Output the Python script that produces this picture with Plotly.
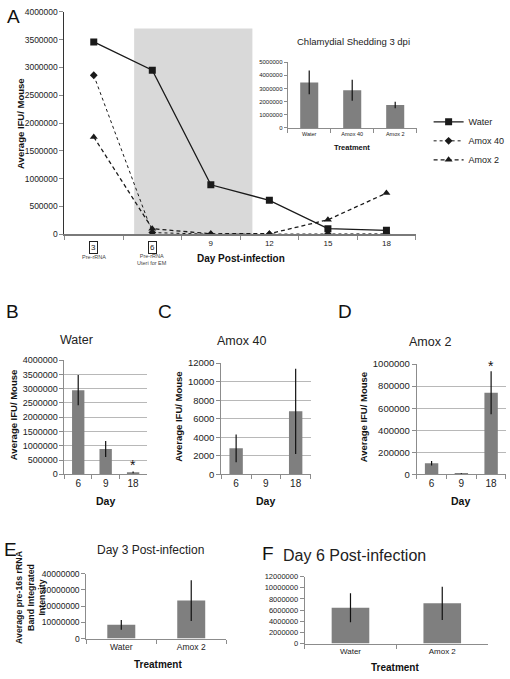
import plotly.graph_objects as go

# ---------------- data ----------------
days_a = ["3", "6", "9", "12", "15", "18"]
water_a = [3460000, 2950000, 890000, 610000, 100000, 70000]
amox40_a = [2860000, 30000, 0, 0, 5000, 7000]
amox2_a = [1750000, 100000, 8000, 10000, 260000, 740000]

inset_treat = ["Water", "Amox 40", "Amox 2"]
inset_vals = [3460000, 2860000, 1750000]
inset_err = [900000, 800000, 250000]

days_bcd = ["6", "9", "18"]
water_b = [2950000, 890000, 70000]
water_b_err = [530000, 280000, 30000]
amox40_c = [2800, 0, 6800]
amox40_c_err = [1500, 0, 4600]
amox2_d = [100000, 8000, 740000]
amox2_d_err = [20000, 3000, 195000]

treat_ef = ["Water", "Amox 2"]
day3_vals = [8500000, 23400000]
day3_err = [3000000, 12500000]
day6_vals = [6400000, 7200000]
day6_err = [2600000, 3000000]

W, H = 510, 679
FONT = "Liberation Sans, Arial, sans-serif"
BAR = "#7f7f7f"
GRID = "#b8b8b8"
AX = "#8c8c8c"


def px_x(a, b):
    return [a / W, b / W]


def px_y(top, bottom):
    return [1 - bottom / H, 1 - top / H]


fig = go.Figure()

# ---- Panel A: lines ----
fig.add_trace(go.Scatter(x=days_a, y=water_a, name="Water", mode="lines+markers",
                         line=dict(color="#1a1a1a", width=1.3),
                         marker=dict(symbol="square", size=7, color="#1a1a1a"),
                         xaxis="x", yaxis="y"))
fig.add_trace(go.Scatter(x=days_a, y=amox40_a, name="Amox 40", mode="lines+markers",
                         line=dict(color="#1a1a1a", width=1, dash="dot"),
                         marker=dict(symbol="diamond", size=6, color="#1a1a1a"),
                         xaxis="x", yaxis="y"))
fig.add_trace(go.Scatter(x=days_a, y=amox2_a, name="Amox 2", mode="lines+markers",
                         line=dict(color="#1a1a1a", width=1.3, dash="4px,3px"),
                         marker=dict(symbol="triangle-up", size=7, color="#1a1a1a"),
                         xaxis="x", yaxis="y"))


def bar(x, y, err, xa, ya, width):
    return go.Bar(x=x, y=y, marker=dict(color=BAR, line=dict(width=0)), width=width,
                  error_y=dict(type="data", array=err, color="#111111", thickness=1.2, width=0),
                  showlegend=False, xaxis=xa, yaxis=ya)


fig.add_trace(bar(inset_treat, inset_vals, inset_err, "x2", "y2", 0.42))
fig.add_trace(bar(days_bcd, water_b, water_b_err, "x3", "y3", 0.45))
fig.add_trace(bar(days_bcd, amox40_c, amox40_c_err, "x4", "y4", 0.45))
fig.add_trace(bar(days_bcd, amox2_d, amox2_d_err, "x5", "y5", 0.45))
fig.add_trace(bar(treat_ef, day3_vals, day3_err, "x6", "y6", 0.4))
fig.add_trace(bar(treat_ef, day6_vals, day6_err, "x7", "y7", 0.41))


def xcat(domain, anchor, size, n, color="#222"):
    return dict(domain=domain, anchor=anchor, type="category", range=[-0.5, n - 0.5],
                showgrid=False, zeroline=False,
                showline=True, linecolor=AX, linewidth=1.2, ticks="outside", tickson="boundaries",
                ticklen=4, tickcolor=AX, tickfont=dict(family=FONT, size=size, color=color),
                fixedrange=True)


def ylin(domain, anchor, rng, dtick, size, grid=False):
    return dict(domain=domain, anchor=anchor, range=rng, dtick=dtick, showgrid=grid,
                gridcolor=GRID, gridwidth=1, zeroline=False, showline=True, linecolor=AX,
                linewidth=1, ticks="outside", ticklen=4, tickcolor=AX, tickformat="d",
                tickfont=dict(family=FONT, size=size, color="#222"), fixedrange=True)


layout = dict(
    width=W, height=H, margin=dict(l=0, r=0, t=0, b=0),
    paper_bgcolor="white", plot_bgcolor="rgba(0,0,0,0)",
    font=dict(family=FONT, color="#111"),
    showlegend=True,
    legend=dict(x=432 / W, y=1 - 103 / H, xanchor="left", yanchor="top",
                font=dict(family=FONT, size=9, color="#222"), bgcolor="rgba(0,0,0,0)",
                tracegroupgap=0, itemwidth=30),
)

# Panel A axes
xa = xcat(px_x(65, 419), "y", 8, 6)
xa.update(tickvals=days_a, ticktext=["", "", "9", "12", "15", "18"], linewidth=2, linecolor="#7a7a7a")
layout["xaxis"] = xa
layout["yaxis"] = ylin(px_y(6, 232), "x", [0, 4000000], 500000, 8.5)
layout["yaxis"].update(linecolor="#333")

# Inset
layout["xaxis2"] = xcat(px_x(290, 420), "y2", 5.5, 3)
layout["yaxis2"] = ylin(px_y(57, 124), "x2", [0, 5000000], 1000000, 6)
layout["yaxis2"]["ticklen"] = 3

# B, C, D
layout["xaxis3"] = xcat(px_x(65, 148), "y3", 10, 3)
layout["yaxis3"] = ylin(px_y(360, 476), "x3", [0, 4000000], 500000, 9, grid=True)
layout["xaxis4"] = xcat(px_x(223, 313), "y4", 10, 3)
layout["yaxis4"] = ylin(px_y(363, 476), "x4", [0, 12000], 2000, 9.5, grid=True)
layout["xaxis5"] = xcat(px_x(420, 510), "y5", 10, 3)
layout["yaxis5"] = ylin(px_y(364, 476), "x5", [0, 1000000], 200000, 9.5, grid=True)

# E, F
layout["xaxis6"] = xcat(px_x(87, 228), "y6", 8.5, 2)
layout["yaxis6"] = ylin(px_y(577, 643), "x6", [0, 40000000], 10000000, 8.5)
layout["xaxis7"] = xcat(px_x(307, 492), "y7", 8, 2)
layout["yaxis7"] = ylin(px_y(580, 648), "x7", [0, 12000000], 2000000, 7.5)

fig.update_layout(**layout)

# shaded region in panel A
fig.add_shape(type="rect", xref="x", yref="y", x0=0.69, x1=2.71, y0=0, y1=3700000,
              fillcolor="#d9d9d9", line=dict(width=0), layer="below")

ann = []


def txt(x, y, s, size, bold=False, xanchor="center", yanchor="middle", angle=0, color="#111", **kw):
    d = dict(x=x / W, y=1 - y / H, xref="paper", yref="paper", text=("<b>%s</b>" % s) if bold else s,
             showarrow=False, xanchor=xanchor, yanchor=yanchor, textangle=angle,
             font=dict(family=FONT, size=size, color=color))
    d.update(kw)
    ann.append(d)


# panel letters
txt(5, 11, "A", 19, xanchor="left")
txt(4, 311, "B", 19, xanchor="left")
txt(157, 311, "C", 19, xanchor="left")
txt(339, 311, "D", 19, xanchor="left")
txt(2, 552, "E", 19, xanchor="left")
txt(262, 557, "F", 19, xanchor="left")

# Panel A texts
txt(20, 120, "Average IFU/ Mouse", 9.5, bold=True, angle=-90)
txt(243, 257, "Day Post-infection", 10, bold=True)
txt(356, 36, "Chlamydial Shedding 3 dpi", 9.5, color="#222")
txt(355, 144, "Treatment", 7.5, bold=True)
# boxed day labels
ann.append(dict(x=0, y=1 - 245 / H, xref="x", yref="paper", text="3", showarrow=False,
                font=dict(family=FONT, size=8, color="#222"), bordercolor="#222", borderwidth=1,
                borderpad=1))
ann.append(dict(x=1, y=1 - 245 / H, xref="x", yref="paper", text="6", showarrow=False,
                font=dict(family=FONT, size=8, color="#222"), bordercolor="#222", borderwidth=1,
                borderpad=1))
ann.append(dict(x=0, y=1 - 255 / H, xref="x", yref="paper", text="Pre-rRNA", showarrow=False,
                font=dict(family=FONT, size=5.5, color="#444")))
ann.append(dict(x=1, y=1 - 258 / H, xref="x", yref="paper", text="Pre-rRNA<br>Uteri for EM",
                showarrow=False, font=dict(family=FONT, size=5.5, color="#444")))

# B, C, D texts
txt(77, 339, "Water", 12.5, color="#222")
txt(243, 341, "Amox 40", 12.5, color="#222")
txt(433, 342, "Amox 2", 12.5, color="#222")
txt(13, 416, "Average IFU/ Mouse", 9.5, bold=True, angle=-90)
txt(180, 418, "Average IFU/ Mouse", 9.5, bold=True, angle=-90)
txt(366, 418, "Average IFU/ Mouse", 9.5, bold=True, angle=-90)
txt(106, 503, "Day", 10.5, bold=True)
txt(268, 503, "Day", 10.5, bold=True)
txt(464, 503, "Day", 10.5, bold=True)

# stars (x given as category index)
ann.append(dict(x=2, y=water_b[2] + water_b_err[2], xref="x3", yref="y3", text="*",
                showarrow=False, yanchor="bottom", yshift=-4, font=dict(family=FONT, size=14, color="#111")))
ann.append(dict(x=2, y=amox2_d[2] + amox2_d_err[2], xref="x5", yref="y5", text="*",
                showarrow=False, yanchor="bottom", yshift=-5, font=dict(family=FONT, size=14, color="#111")))

# E, F texts
txt(152, 553, "Day 3 Post-infection", 12, color="#222")
txt(357, 559, "Day 6 Post-infection", 16, color="#222")
txt(31, 601, "Average pre-16s rRNA<br>Band Integrated<br>Intensity", 8.8, bold=True, angle=-90)
txt(159, 669, "Treatment", 10, bold=True)
txt(398, 672, "Treatment", 10, bold=True)

fig.update_layout(annotations=ann)

fig.write_html("out.html", config={"displayModeBar": False},
               post_script="document.body.style.margin='0';")
